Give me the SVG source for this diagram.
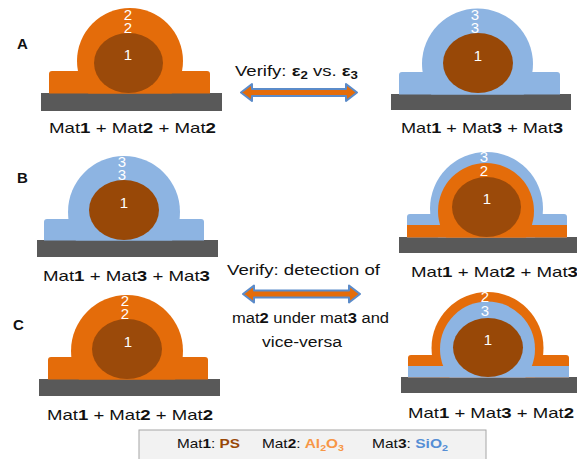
<svg xmlns="http://www.w3.org/2000/svg" width="577" height="459" viewBox="0 0 577 459">
  <style>
    .sub { fill: #595959; }
    .m2 { fill: #E46C0A; }
    .m3 { fill: #8DB4E2; }
    .m1 { fill: #984807; }
    .m1t { fill: #9B4A0A; }
    .num { font-family: "Liberation Sans", Arial, sans-serif; font-size: 15px; fill: #FFFFFF; text-anchor: middle; }
    .lbl { font-family: "Liberation Sans", Arial, sans-serif; font-size: 15px; fill: #111111; }
    .tag { font-family: "Liberation Sans", Arial, sans-serif; font-size: 15px; font-weight: bold; fill: #111111; }
    .note { font-family: "Liberation Sans", Arial, sans-serif; font-size: 14px; fill: #111111; }
    .leg { font-family: "Liberation Sans", Arial, sans-serif; font-size: 13px; fill: #111111; }
    .b { font-weight: bold; }
    .arrow { fill: #E46C0A; stroke: #5B8BC9; stroke-width: 2; stroke-linejoin: round; }
  </style>
  <defs>
    <!-- keep each coating stack above its substrate -->
    <clipPath id="clipA"><rect x="0" y="0" width="577" height="93.5"/></clipPath>
    <clipPath id="clipAR"><rect x="0" y="0" width="577" height="94.5"/></clipPath>
    <clipPath id="clipBL"><rect x="0" y="140" width="577" height="100.5"/></clipPath>
    <clipPath id="clipBR"><rect x="0" y="140" width="577" height="97.5"/></clipPath>
    <clipPath id="clipCL"><rect x="0" y="285" width="577" height="94.5"/></clipPath>
    <clipPath id="clipCR"><rect x="0" y="285" width="577" height="92.5"/></clipPath>
  </defs>

  <!-- row labels -->
  <text class="tag" x="17" y="49">A</text>
  <text class="tag" x="17" y="183">B</text>
  <text class="tag" x="13" y="330">C</text>

  <!-- A, left: Mat1 + Mat2 + Mat2 -->
  <g id="a-left">
    <rect class="sub" x="41" y="93" width="181" height="18"/>
    <g clip-path="url(#clipA)">
      <circle class="m2" cx="130" cy="61" r="53"/>
      <rect class="m2" x="49" y="71" width="161" height="30" rx="3"/>
      <ellipse class="m1t" cx="128.5" cy="63" rx="34.5" ry="30"/>
    </g>
    <text class="num" x="128" y="20">2</text>
    <text class="num" x="128" y="33">2</text>
    <text class="num" x="128" y="60">1</text>
    <text class="lbl" x="49" y="133" textLength="167" lengthAdjust="spacingAndGlyphs">Mat<tspan class="b">1</tspan> + Mat<tspan class="b">2</tspan> + Mat<tspan class="b">2</tspan></text>
  </g>

  <!-- A, right: Mat1 + Mat3 + Mat3 -->
  <g id="a-right">
    <rect class="sub" x="391" y="94" width="180" height="16"/>
    <g clip-path="url(#clipAR)">
      <circle class="m3" cx="477.5" cy="64" r="55.5"/>
      <rect class="m3" x="399" y="72" width="161" height="30" rx="3"/>
      <ellipse class="m1" cx="478" cy="63" rx="35" ry="30"/>
    </g>
    <text class="num" x="475" y="20">3</text>
    <text class="num" x="475" y="33">3</text>
    <text class="num" x="478" y="61">1</text>
    <text class="lbl" x="401" y="133" textLength="162" lengthAdjust="spacingAndGlyphs">Mat<tspan class="b">1</tspan> + Mat<tspan class="b">3</tspan> + Mat<tspan class="b">3</tspan></text>
  </g>

  <!-- B, left: Mat1 + Mat3 + Mat3 -->
  <g id="b-left">
    <rect class="sub" x="37" y="240" width="181" height="17"/>
    <g clip-path="url(#clipBL)">
      <circle class="m3" cx="124" cy="212" r="56"/>
      <rect class="m3" x="44" y="219" width="160" height="30" rx="3"/>
      <ellipse class="m1" cx="124" cy="210" rx="35" ry="30"/>
    </g>
    <text class="num" x="122" y="167">3</text>
    <text class="num" x="122" y="180">3</text>
    <text class="num" x="124" y="208">1</text>
    <text class="lbl" x="43" y="281" textLength="167" lengthAdjust="spacingAndGlyphs">Mat<tspan class="b">1</tspan> + Mat<tspan class="b">3</tspan> + Mat<tspan class="b">3</tspan></text>
  </g>

  <!-- B, right: Mat1 + Mat2 + Mat3 -->
  <g id="b-right">
    <rect class="sub" x="399" y="237" width="178" height="16"/>
    <g clip-path="url(#clipBR)">
      <circle class="m3" cx="486.5" cy="208.5" r="56.5"/>
      <rect class="m3" x="407" y="214" width="160" height="30" rx="3"/>
      <circle class="m2" cx="486" cy="211" r="48"/>
      <rect class="m2" x="407" y="225" width="160" height="20"/>
      <ellipse class="m1t" cx="486.5" cy="207" rx="34.5" ry="30"/>
    </g>
    <text class="num" x="484" y="162">3</text>
    <text class="num" x="484" y="176">2</text>
    <text class="num" x="487" y="204">1</text>
    <text class="lbl" x="411" y="277" textLength="167" lengthAdjust="spacingAndGlyphs">Mat<tspan class="b">1</tspan> + Mat<tspan class="b">2</tspan> + Mat<tspan class="b">3</tspan></text>
  </g>

  <!-- C, left: Mat1 + Mat2 + Mat2 -->
  <g id="c-left">
    <rect class="sub" x="39" y="379" width="181" height="17"/>
    <g clip-path="url(#clipCL)">
      <circle class="m2" cx="127" cy="351" r="56"/>
      <rect class="m2" x="48" y="357" width="160" height="30" rx="3"/>
      <ellipse class="m1t" cx="127" cy="349" rx="35" ry="30"/>
    </g>
    <text class="num" x="125" y="306">2</text>
    <text class="num" x="125" y="319">2</text>
    <text class="num" x="128" y="347">1</text>
    <text class="lbl" x="47" y="420" textLength="166" lengthAdjust="spacingAndGlyphs">Mat<tspan class="b">1</tspan> + Mat<tspan class="b">2</tspan> + Mat<tspan class="b">2</tspan></text>
  </g>

  <!-- C, right: Mat1 + Mat3 + Mat2 -->
  <g id="c-right">
    <rect class="sub" x="401" y="377" width="176" height="16"/>
    <g clip-path="url(#clipCR)">
      <circle class="m2" cx="487.5" cy="348" r="56"/>
      <rect class="m2" x="408" y="355" width="161" height="30" rx="3"/>
      <circle class="m3" cx="487.5" cy="349" r="47.5"/>
      <rect class="m3" x="408" y="366" width="161" height="20"/>
      <ellipse class="m1" cx="488" cy="347.5" rx="35" ry="29.5"/>
    </g>
    <text class="num" x="485" y="302">2</text>
    <text class="num" x="485" y="316">3</text>
    <text class="num" x="488" y="345">1</text>
    <text class="lbl" x="408" y="418" textLength="166" lengthAdjust="spacingAndGlyphs">Mat<tspan class="b">1</tspan> + Mat<tspan class="b">3</tspan> + Mat<tspan class="b">2</tspan></text>
  </g>

  <!-- double-headed comparison arrows -->
  <g id="connectors">
    <polygon class="arrow" points="241,92.5 252,84 252,89 346,89 346,84 357,92.5 346,101 346,96 252,96 252,101"/>
    <polygon class="arrow" points="243,294 254,285.5 254,290.5 349,290.5 349,285.5 360,294 349,302.5 349,297.5 254,297.5 254,302.5"/>
  </g>

  <!-- comparison notes -->
  <g id="note-a">
    <text class="note" x="235" y="76" textLength="123" lengthAdjust="spacingAndGlyphs">Verify:  <tspan class="b">ε</tspan><tspan class="b" font-size="10" dy="3">2</tspan><tspan dy="-3"> vs. </tspan><tspan class="b">ε</tspan><tspan class="b" font-size="10" dy="3">3</tspan></text>
  </g>
  <g id="note-c">
    <text class="note" x="227" y="275" textLength="153" lengthAdjust="spacingAndGlyphs">Verify: detection of</text>
    <text class="note" x="232" y="323" textLength="157" lengthAdjust="spacingAndGlyphs">mat<tspan class="b">2</tspan> under mat<tspan class="b">3</tspan> and</text>
    <text class="note" x="262" y="347" textLength="80" lengthAdjust="spacingAndGlyphs">vice-versa</text>
  </g>

  <!-- legend -->
  <g id="legend">
    <rect x="139" y="430" width="347" height="40" fill="#F2F2F2" stroke="#A6A6A6" stroke-width="1"/>
    <text class="leg" x="177" y="448" textLength="63" lengthAdjust="spacingAndGlyphs">Mat<tspan class="b">1</tspan>: <tspan class="b" fill="#984807">PS</tspan></text>
    <text class="leg" x="262" y="448" textLength="82" lengthAdjust="spacingAndGlyphs">Mat<tspan class="b">2</tspan>: <tspan class="b" fill="#F79646">Al<tspan font-size="9" dy="3">2</tspan><tspan dy="-3">O</tspan><tspan font-size="9" dy="3">3</tspan></tspan></text>
    <text class="leg" x="372" y="448" textLength="76" lengthAdjust="spacingAndGlyphs">Mat<tspan class="b">3</tspan>: <tspan class="b" fill="#558ED5">SiO<tspan font-size="9" dy="3">2</tspan></tspan></text>
  </g>
</svg>
